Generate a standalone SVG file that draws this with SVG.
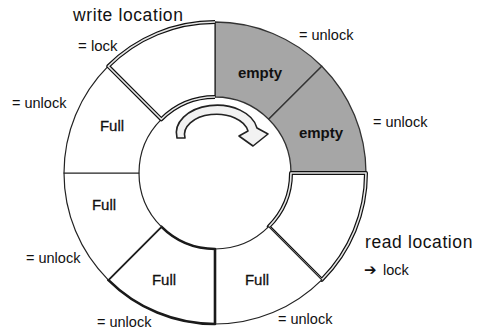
<svg xmlns="http://www.w3.org/2000/svg" width="482" height="329" viewBox="0 0 482 329">
<style>
text{font-family:"Liberation Sans",Arial,sans-serif;fill:#111}
.big{font-size:17.5px;letter-spacing:0.6px}
.lab{font-size:14.5px}
.full{font-size:15px;text-anchor:middle;stroke:#111;stroke-width:0.3}
.empty{font-size:15px;font-weight:bold;text-anchor:middle}
.seg{fill:#fff;stroke:#222;stroke-width:1.2;stroke-linejoin:round}
.gray{fill:#a6a6a6;stroke:#333;stroke-width:1.3}
.dblo{fill:none;stroke:#111;stroke-width:4;stroke-linejoin:round}
.dbli{fill:none;stroke:#e6e6e6;stroke-width:1.6;stroke-linejoin:round}
.thick{fill:none;stroke:#1a1a1a;stroke-width:2.6;stroke-linejoin:round}
</style>
<rect width="482" height="329" fill="#fff"/>
<g id="seg-empty1">
<path class="seg gray" d="M321.8,66.2 A151,151 0 0 0 215,22 L215,97 A76,76 0 0 1 268.7,119.3 Z"/>
<text class="empty" x="260" y="78">empty</text>
</g>
<g id="seg-empty2">
<path class="seg gray" d="M366,173 A151,151 0 0 0 321.8,66.2 L268.7,119.3 A76,76 0 0 1 291,173 Z"/>
<text class="empty" x="321" y="138">empty</text>
</g>
<g id="seg-read">
<path class="seg" d="M321.8,279.8 A151,151 0 0 0 366,173 L291,173 A76,76 0 0 1 268.7,226.7 Z"/>
<path class="dblo" d="M321.8,279.8 A151,151 0 0 0 366,173 L291,173 A76,76 0 0 1 268.7,226.7 Z"/>
<path class="dbli" d="M321.8,279.8 A151,151 0 0 0 366,173 L291,173 A76,76 0 0 1 268.7,226.7 Z"/>
</g>
<g id="seg-full4">
<path class="seg" d="M215,324 A151,151 0 0 0 321.8,279.8 L268.7,226.7 A76,76 0 0 1 215,249 Z"/>
<text class="full" x="257" y="285">Full</text>
</g>
<g id="seg-full3">
<path class="seg" d="M108.2,279.8 A151,151 0 0 0 215,324 L215,249 A76,76 0 0 1 161.3,226.7 Z"/>
<path class="thick" d="M108.2,279.8 A151,151 0 0 0 215,324 L215,249 A76,76 0 0 1 161.3,226.7 Z"/>
<text class="full" x="164" y="285">Full</text>
</g>
<g id="seg-full2">
<path class="seg" d="M64,173 A151,151 0 0 0 108.2,279.8 L161.3,226.7 A76,76 0 0 1 139,173 Z"/>
<text class="full" x="104" y="210">Full</text>
</g>
<g id="seg-full1">
<path class="seg" d="M108.2,66.2 A151,151 0 0 0 64,173 L139,173 A76,76 0 0 1 161.3,119.3 Z"/>
<text class="full" x="112" y="131">Full</text>
</g>
<g id="seg-write">
<path class="seg" d="M215,22 A151,151 0 0 0 108.2,66.2 L161.3,119.3 A76,76 0 0 1 215,97 Z"/>
<path class="dblo" d="M215,22 A151,151 0 0 0 108.2,66.2 L161.3,119.3 A76,76 0 0 1 215,97"/>
<path class="dbli" d="M215,22 A151,151 0 0 0 108.2,66.2 L161.3,119.3 A76,76 0 0 1 215,97"/>
</g>
<g id="connectors">
<path d="M177,138 A38,26 0 0 1 257,128 L268,134 L253,146 L239,136 L248,131 A30,19 0 0 0 185,138 Z" fill="#f2f2f2" stroke="#222" stroke-width="1.6" stroke-linejoin="round"/>
</g>
<g id="labels">
<text class="big" x="73" y="21">write location</text>
<text class="lab" x="78" y="51" style="font-size:15px">= lock</text>
<text class="lab" x="12" y="108">= unlock</text>
<text class="lab" x="299" y="40">= unlock</text>
<text class="lab" x="373" y="127">= unlock</text>
<text class="lab" x="26" y="263">= unlock</text>
<text class="lab" x="97" y="327">= unlock</text>
<text class="lab" x="278" y="324">= unlock</text>
<text class="big" x="365" y="248">read location</text>
<text class="lab" x="364" y="275"><tspan style="font-family:'DejaVu Sans',sans-serif;font-size:15px">➔</tspan><tspan x="383">lock</tspan></text>
</g>
</svg>
